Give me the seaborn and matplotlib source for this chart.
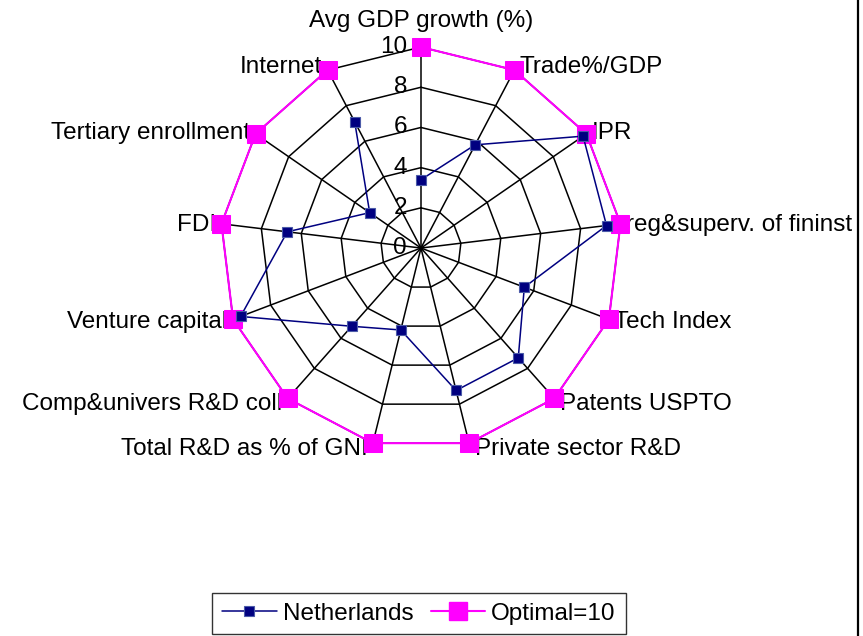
import numpy as np
import pandas as pd
import seaborn as sns
import matplotlib.pyplot as plt
from matplotlib.lines import Line2D

# 雷达图数据
categories = ['Avg GDP growth (%)', 'Trade%/GDP', 'IPR', 'reg&superv. of fininst',
              'Tech Index', 'Patents USPTO', 'Private sector R&D', 'Total R&D as % of GNI',
              'Comp&univers R&D coll', 'Venture capital', 'FDI', 'Tertiary enrollment', 'Internet']
netherlands = [3.4, 5.8, 9.8, 9.3, 5.5, 7.3, 7.3, 4.2, 5.2, 9.6, 6.7, 3.1, 7.1]
optimal = [10] * len(categories)
ring_values = [0, 2, 4, 6, 8, 10]

sns.set_style('white')
plt.rcParams['font.family'] = ['Liberation Sans', 'DejaVu Sans']
plt.rcParams['text.color'] = 'black'
FS = 17.5

n = len(categories)
angles = np.arange(n) * 2 * np.pi / n
closed = np.append(angles, angles[0])

fig = plt.figure(figsize=(8.63, 6.36), dpi=100)
ax = fig.add_axes([0.2549, 0.294, 0.4658, 0.632], projection='polar')
ax.set_theta_zero_location('N')
ax.set_theta_direction(-1)
ax.set_ylim(0, 10)
ax.grid(False)
ax.spines['polar'].set_visible(False)
ax.set_xticks([])
ax.set_yticks([])

# 多边形网格
for v in ring_values[1:]:
    ax.plot(closed, [v] * (n + 1), color='black', lw=1.1, zorder=1)
for a in angles:
    ax.plot([a, a], [0, 10], color='black', lw=1.1, zorder=1)

# 刻度标签
for v in ring_values:
    ax.annotate(str(v), xy=(0, v), xytext=(-10, 0), textcoords='offset points',
                ha='right', va='center', fontsize=FS, zorder=3)

df = pd.DataFrame({
    'angle': np.concatenate([closed, closed]),
    'value': netherlands + netherlands[:1] + optimal + optimal[:1],
    'series': ['Netherlands'] * (n + 1) + ['Optimal=10'] * (n + 1),
})
sns.lineplot(data=df[df.series == 'Optimal=10'], x='angle', y='value', sort=False,
             color='#FF00FF', lw=1.5, marker='s', markersize=13,
             markeredgecolor='#FF00FF', ax=ax, zorder=4, clip_on=False, legend=False)
sns.lineplot(data=df[df.series == 'Netherlands'], x='angle', y='value', sort=False,
             color='#000080', lw=1.1, marker='s', markersize=7,
             markeredgecolor='#4B5BA8', markeredgewidth=0.8, ax=ax, zorder=5,
             clip_on=False, legend=False)
ax.set_xlabel('')
ax.set_ylabel('')

# 类别标签
for a, name in zip(angles, categories):
    s = np.sin(a)
    dy = -1 + 3.5 * np.cos(a)
    if abs(s) < 0.05:
        ax.annotate(name, xy=(a, 10), xytext=(0, 19), textcoords='offset points',
                    ha='center', va='center', fontsize=FS)
    elif s > 0:
        ax.annotate(name, xy=(a, 10), xytext=(4, dy), textcoords='offset points',
                    ha='left', va='center', fontsize=FS)
    else:
        ax.annotate(name, xy=(a, 10), xytext=(-4, dy), textcoords='offset points',
                    ha='right', va='center', fontsize=FS)

handles = [
    Line2D([], [], color='#000080', lw=1.1, marker='s', markersize=7,
           markeredgecolor='#4B5BA8', markeredgewidth=0.8),
    Line2D([], [], color='#FF00FF', lw=1.5, marker='s', markersize=13),
]
leg = fig.legend(handles, ['Netherlands', 'Optimal=10'], loc='upper center',
                 bbox_to_anchor=(0.4855, 1 - 593 / 636), ncol=2, fontsize=FS,
                 frameon=True, fancybox=False, edgecolor='black', handlelength=2.25,
                 columnspacing=0.7, handletextpad=0.25, borderpad=0.4, borderaxespad=0,
                 labelcolor='black')
leg.get_frame().set_linewidth(1.0)

fig.add_artist(Line2D([857.5 / 863, 857.5 / 863], [0, 1], color='black', lw=1.6,
                      transform=fig.transFigure, zorder=10))

fig.savefig('out.png', dpi=100)
